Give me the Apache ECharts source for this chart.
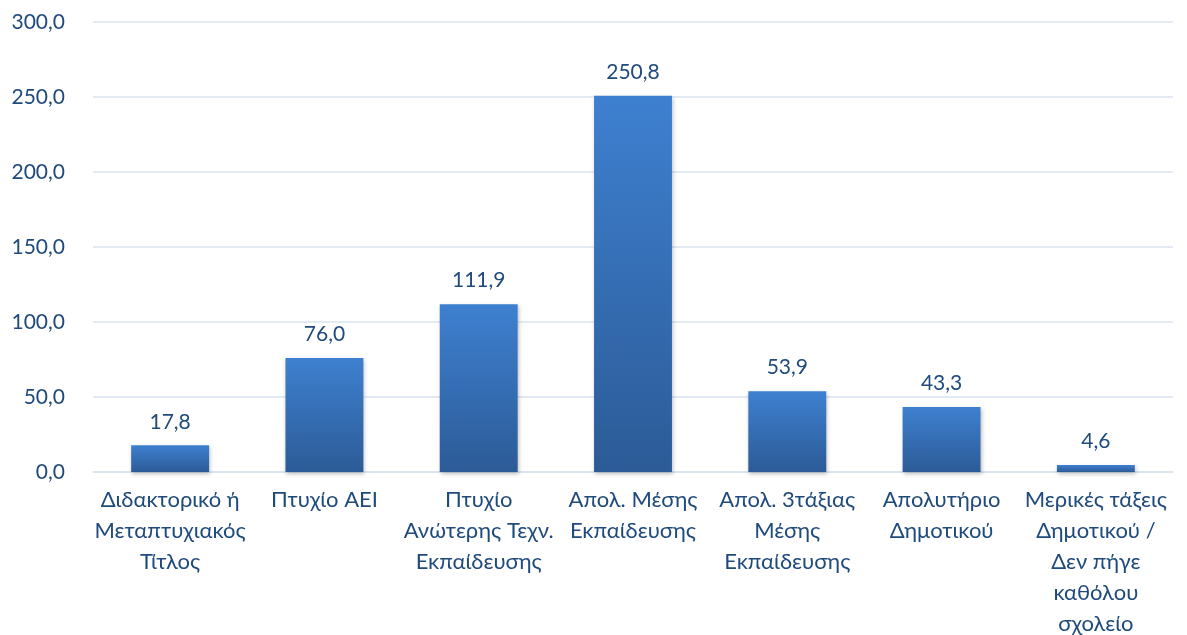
<!DOCTYPE html>
<html>
<head>
<meta charset="utf-8">
<script src="https://cdn.jsdelivr.net/npm/echarts@6/dist/echarts.min.js"></script>
<style>
html,body{margin:0;padding:0;background:#fff;}
#chart{width:1187px;height:635px;}
</style>
</head>
<body>
<div id="chart"></div>
<script>
var categories = [
  "Διδακτορικό ή\nΜεταπτυχιακός\nΤίτλος",
  "Πτυχίο ΑΕΙ",
  "Πτυχίο\nΑνώτερης Τεχν.\nΕκπαίδευσης",
  "Απολ. Μέσης\nΕκπαίδευσης",
  "Απολ. 3τάξιας\nΜέσης\nΕκπαίδευσης",
  "Απολυτήριο\nΔημοτικού",
  "Μερικές τάξεις\nΔημοτικού /\nΔεν πήγε\nκαθόλου\nσχολείο"
];
var values = [17.8, 76.0, 111.9, 250.8, 53.9, 43.3, 4.6];
var yMin = 0, yMax = 300, yInterval = 50;

function fmt(v){ return Number(v).toFixed(1).replace('.', ','); }

var textColor = '#1f4a7c';
var chart = echarts.init(document.getElementById('chart'), null, {renderer:'canvas'});
chart.setOption({
  animation: false,
  grid: {left: 93, right: 14, top: 22, bottom: 163, containLabel: false, outerBoundsMode: 'none'},
  xAxis: {
    type: 'category',
    data: categories,
    axisLine: {show: true, lineStyle: {color: '#d9e3f0', width: 1.5}},
    axisTick: {show: false},
    axisLabel: {
      interval: 0,
      color: textColor,
      fontFamily: 'Lato',
      fontSize: 22,
      lineHeight: 31,
      margin: 12
    }
  },
  yAxis: {
    type: 'value',
    min: yMin, max: yMax, interval: yInterval,
    axisLine: {show: false},
    axisTick: {show: false},
    splitLine: {lineStyle: {color: '#d9e3f0', width: 1.5}},
    axisLabel: {
      color: textColor,
      fontFamily: 'Lato',
      fontSize: 21,
      margin: 28,
      formatter: function(v){ return fmt(v); }
    }
  },
  series: [{
    type: 'bar',
    data: values,
    barWidth: '50.5%',
    itemStyle: {
      color: new echarts.graphic.LinearGradient(0, 0, 0, 1, [
        {offset: 0, color: '#3e80d0'},
        {offset: 1, color: '#2c5b97'}
      ]),
      shadowColor: 'rgba(0,0,0,0.25)',
      shadowBlur: 4,
      shadowOffsetX: 1,
      shadowOffsetY: 2
    },
    label: {
      show: true,
      position: 'top',
      distance: 13,
      color: textColor,
      fontFamily: 'Lato',
      fontSize: 21,
      formatter: function(p){ return fmt(p.value); }
    }
  }]
});
</script>
</body>
</html>
